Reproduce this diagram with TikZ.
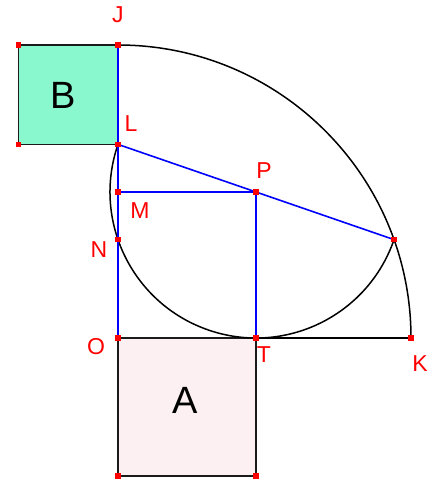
\documentclass[tikz,border=0pt]{standalone}
\usepackage{fontspec}
\setmainfont{Liberation Sans}
\definecolor{mintB}{HTML}{8AF8CF}
\definecolor{pinkA}{HTML}{FCF0F2}
\definecolor{edge}{HTML}{1A1A1A}
\begin{document}
\begin{tikzpicture}[x=1pt,y=1pt,
  blk/.style={draw=black,line width=1.5pt},
  blu/.style={draw=blue,line width=1.6pt},
  sqedge/.style={draw=edge,line width=1.7pt},
  pt/.style={fill=red,inner sep=0pt,minimum size=5.5pt,draw=none,rectangle},
  lbl/.style={text=red,font=\fontsize{23}{23}\selectfont,inner sep=0pt},
  big/.style={text=black,font=\fontsize{38}{38}\selectfont,inner sep=0pt}]
\useasboundingbox (-118,-141) rectangle (322,338);
% points
\coordinate (O) at (0,0);
\coordinate (J) at (0,293);
\coordinate (K) at (293,0);
\coordinate (T) at (138,0);
\coordinate (L) at (0,193.6);
\coordinate (P) at (138,146);
\coordinate (M) at (0,146);
\coordinate (N) at (0,98.4);
\coordinate (Q) at (276,98.4);
\coordinate (B1) at (-99.4,293);
\coordinate (B2) at (-99.4,193.6);
\coordinate (A1) at (0,-138);
\coordinate (A2) at (138,-138);
% squares
\path[fill=pinkA] (O) -- (T) -- (A2) -- (A1) -- cycle;
\path[fill=mintB] (B2) -- (L) -- (J) -- (B1) -- cycle;
\draw[sqedge] (O) -- (T) -- (A2) -- (A1) -- cycle;
\draw[sqedge] (L) -- (B2) -- (B1) -- (J);
% arcs
\draw[blk] (J) arc[start angle=90,end angle=0,radius=293];
\draw[blk] (T) -- (K);
\draw[blk] (L) arc[start angle=160.97,end angle=340.97,radius=146];
% blue lines
\draw[blu] (O) -- (J);
\draw[blu] (L) -- (Q);
\draw[blu] (M) -- (P);
\draw[blu] (P) -- (T);
% markers
\foreach \p in {J,L,M,N,O,T,K,P,Q,B1,B2,A1,A2}
  \node[pt] (m\p) at (\p) {};
% labels
\node[lbl] (lJ) at (0,323) {J};
\node[lbl] (lL) at (13,214) {L};
\node[lbl] (lP) at (146,167) {P};
\node[lbl] (lM) at (22,127) {M};
\node[lbl] (lN) at (-19,88) {N};
\node[lbl] (lO) at (-22,-9) {O};
\node[lbl] (lT) at (146,-17) {T};
\node[lbl] (lK) at (302,-26) {K};
\node[big] (lA) at (67,-62) {A};
\node[big] (lB) at (-55,243) {B};
\end{tikzpicture}
\end{document}
